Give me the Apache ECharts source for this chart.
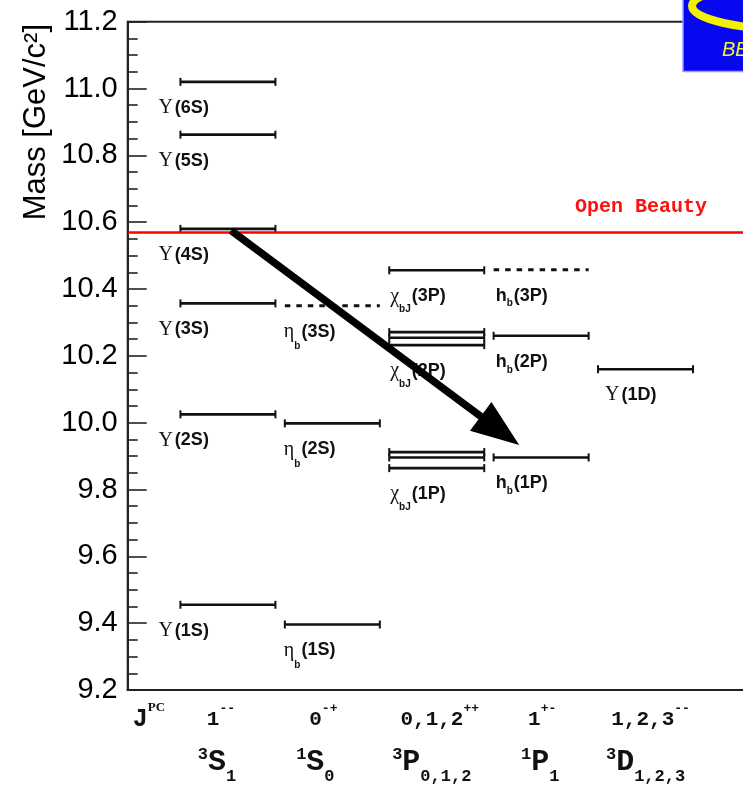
<!DOCTYPE html>
<html>
<head>
<meta charset="utf-8">
<script src="https://cdn.jsdelivr.net/npm/echarts@6/dist/echarts.min.js"></script>
<style>
  html, body { margin: 0; padding: 0; background: #fff; }
  #chart { width: 743px; height: 786px; }
</style>
</head>
<body>
<div id="chart"></div>
<script>
// ---- Bottomonium spectrum ----

// Columns: J^PC and spectroscopic term for each column (x = 0..4)
const columnJ = ['1', '0', '0,1,2', '1', '1,2,3'];
const columnPC = ['--', '-+', '++', '+-', '--'];
const columnSpin = ['3', '1', '3', '1', '3'];
const columnL = ['S', 'S', 'P', 'P', 'D'];
const columnTermJ = ['1', '0', '0,1,2', '1', '1,2,3'];

// States: symbol, subscript, radial/orbital term, column, masses of the members [GeV/c^2]
const stateSymbol = ['Υ', 'Υ', 'Υ', 'Υ', 'Υ', 'Υ', 'η', 'η', 'η', 'χ', 'χ', 'χ', 'h', 'h', 'h', 'Υ'];
const stateSub = ['', '', '', '', '', '', 'b', 'b', 'b', 'bJ', 'bJ', 'bJ', 'b', 'b', 'b', ''];
const stateTerm = ['(6S)', '(5S)', '(4S)', '(3S)', '(2S)', '(1S)', '(3S)', '(2S)', '(1S)',
                   '(3P)', '(2P)', '(1P)', '(3P)', '(2P)', '(1P)', '(1D)'];
const stateColumn = [0, 0, 0, 0, 0, 0, 1, 1, 1, 2, 2, 2, 3, 3, 3, 4];
const stateMasses = [
  [11.020], [10.862], [10.580], [10.357], [10.025], [9.455],
  [10.350], [9.998], [9.396],
  [10.456], [10.271, 10.254, 10.232], [9.912, 9.896, 9.864],
  [10.458], [10.260], [9.896],
  [10.160]
];
// 1 = predicted (drawn dashed), 0 = observed
const statePredicted = [0, 0, 0, 0, 0, 0, 1, 0, 0, 0, 0, 0, 1, 0, 0, 0];

// B-Bbar threshold
const openBeautyMass = 10.566;

// Transition arrow: from Υ(4S) down towards h_b(1P)
const arrowFrom = [0.03, 10.575];
const arrowTo = [2.79, 9.933];

// Mass axis
const massMin = 9.2;
const massMax = 11.2;
const massStep = 0.2;

// ---- drawing helpers ----
const INK = '#111';
const HALF = 0.455;                       // half-width of a level bar in column units
const labelShift = [-22, -1, 1, 2, 7];    // label x offset (px) per column
const jpcShift = [-7, -9, 3, 1, 5];       // x nudge (px) of the J^PC row per column
const termShift = [-11, -17, -5, -1, 0];  // x nudge (px) of the term row per column
const subKey = { 'η': 'se', 'χ': 'sx', 'h': 'sh' };

function stateLabel(s) {
  const sym = stateSymbol[s];
  let t = '';
  if (sym === 'Υ') t += '{u|Υ}';
  else if (sym === 'h') t += '{h|h}';
  else t += '{g|' + sym + '}';
  if (stateSub[s]) t += '{' + subKey[sym] + '|' + stateSub[s] + '}';
  t += '{n|' + stateTerm[s] + '}';
  return t;
}

const labelRich = {
  u: { fontFamily: 'Liberation Serif', fontSize: 20, lineHeight: 20, fill: INK, padding: [0, 2, 0, 0] },
  g: { fontFamily: 'Liberation Serif', fontSize: 20, lineHeight: 20, fill: INK },
  h: { fontFamily: 'Liberation Sans', fontWeight: 'bold', fontSize: 18, lineHeight: 20, fill: INK },
  n: { fontFamily: 'Liberation Sans', fontWeight: 'bold', fontSize: 18, lineHeight: 20, fill: INK },
  se: { fontFamily: 'Liberation Sans', fontWeight: 'bold', fontSize: 10, lineHeight: 12, fill: INK, padding: [30, 1, 0, 0] },
  sx: { fontFamily: 'Liberation Sans', fontWeight: 'bold', fontSize: 10, lineHeight: 12, fill: INK, padding: [26, 1, 0, 0] },
  sh: { fontFamily: 'Liberation Sans', fontWeight: 'bold', fontSize: 10, lineHeight: 12, fill: INK, padding: [16, 1, 0, 0] }
};

// one row per drawn bar: [column, mass, state index, carries label]
const levelRows = [];
stateMasses.forEach(function (ms, s) {
  const low = Math.min.apply(null, ms);
  ms.forEach(function (m) {
    levelRows.push([stateColumn[s], m, s, m === low ? 1 : 0]);
  });
});

function renderLevel(params, api) {
  const col = api.value(0), m = api.value(1), s = api.value(2), hasLabel = api.value(3);
  const a = api.coord([col - HALF, m]);
  const b = api.coord([col + HALF, m]);
  const dashed = statePredicted[s] === 1;
  const children = [{
    type: 'line',
    shape: { x1: a[0], y1: a[1], x2: b[0], y2: b[1] },
    style: { stroke: INK, lineWidth: dashed ? 3 : 2.6, lineDash: dashed ? [5.5, 6] : null }
  }];
  if (!dashed) {
    [a, b].forEach(function (p) {
      children.push({
        type: 'line',
        shape: { x1: p[0], y1: p[1] - 4, x2: p[0], y2: p[1] + 4 },
        style: { stroke: INK, lineWidth: 2 }
      });
    });
  }
  if (hasLabel) {
    children.push({
      type: 'text',
      x: a[0] + labelShift[col],
      y: a[1] + 26,
      style: {
        text: stateLabel(s),
        rich: labelRich,
        align: 'left',
        verticalAlign: 'middle',
        fill: INK
      }
    });
  }
  return { type: 'group', children: children };
}

function renderArrow(params, api) {
  const p0 = api.coord([api.value(0), api.value(1)]);
  const p1 = api.coord([api.value(2), api.value(3)]);
  const dx = p1[0] - p0[0], dy = p1[1] - p0[1];
  const len = Math.sqrt(dx * dx + dy * dy);
  const ux = dx / len, uy = dy / len;
  const headLen = 48, headHalf = 18;
  const bx = p1[0] - ux * headLen, by = p1[1] - uy * headLen;
  return {
    type: 'group',
    children: [{
      type: 'line',
      shape: { x1: p0[0], y1: p0[1], x2: bx + ux * 4, y2: by + uy * 4 },
      style: { stroke: '#000', lineWidth: 7.5 }
    }, {
      type: 'polygon',
      shape: { points: [
        [p1[0], p1[1]],
        [bx - uy * headHalf, by + ux * headHalf],
        [bx + uy * headHalf, by - ux * headHalf]
      ] },
      style: { fill: '#000' }
    }]
  };
}

// bottom axis: J^PC row and spectroscopic-term row
const jpcPos = -0.756;
const columnPositions = [0, 1, 2, 3, 4];
const mono = 'Liberation Mono';

// horizontal nudge through padding: left pad on first token or right pad on last
function nudge(shift) {
  return shift >= 0 ? { l: 2 * shift, r: 0 } : { l: 0, r: -2 * shift };
}

const bottomRich = {
  jj: { fontFamily: mono, fontWeight: 'bold', fontSize: 25, lineHeight: 36, color: INK },
  js: { fontFamily: 'Liberation Serif', fontWeight: 'bold', fontSize: 13, lineHeight: 14, color: INK, padding: [0, 0, 24, 0] },
  sp: { fontSize: 10, lineHeight: 48, color: INK }
};
columnPositions.forEach(function (i) {
  const n1 = nudge(jpcShift[i]);
  const n2 = nudge(termShift[i]);
  bottomRich['a' + i] = { fontFamily: mono, fontWeight: 'bold', fontSize: 21, lineHeight: 36, color: INK,
                          padding: [0, 0, 0, n1.l] };
  bottomRich['as' + i] = { fontFamily: mono, fontWeight: 'bold', fontSize: 13, lineHeight: 14, color: INK,
                           padding: [0, n1.r, 22, 0] };
  bottomRich['ts' + i] = { fontFamily: mono, fontWeight: 'bold', fontSize: 17, lineHeight: 18, color: INK,
                           padding: [0, 0, 14, n2.l] };
  bottomRich['tl' + i] = { fontFamily: mono, fontWeight: 'bold', fontSize: 30, lineHeight: 48, color: INK };
  bottomRich['tj' + i] = { fontFamily: mono, fontWeight: 'bold', fontSize: 17, lineHeight: 18, color: INK,
                           padding: [30, n2.r, 0, 0] };
});

function bottomLabel(v) {
  if (v < -0.5) return '{jj|J}{js|PC}\n{sp| }';
  const i = Math.round(v);
  return '{a' + i + '|' + columnJ[i] + '}{as' + i + '|' + columnPC[i] + '}\n' +
         '{ts' + i + '|' + columnSpin[i] + '}{tl' + i + '|' + columnL[i] + '}{tj' + i + '|' + columnTermJ[i] + '}';
}

const chart = echarts.init(document.getElementById('chart'), null, { renderer: 'canvas' });

chart.setOption({
  animation: false,
  backgroundColor: '#fff',
  grid: {
    left: 127.7, top: 21.7, width: 699.5, height: 668.3,
    outerBoundsMode: 'none', containLabel: false,
    show: true, borderColor: '#222', borderWidth: 2, backgroundColor: 'transparent'
  },
  xAxis: {
    type: 'value',
    min: -0.96, max: 5.74,
    splitLine: { show: false },
    axisLine: { show: true, onZero: false, lineStyle: { color: '#222', width: 2 } },
    axisTick: { show: false },
    axisLabel: {
      customValues: [jpcPos].concat(columnPositions),
      formatter: bottomLabel,
      rich: bottomRich,
      margin: 12,
      align: 'center',
      verticalAlign: 'top'
    }
  },
  yAxis: {
    type: 'value',
    min: massMin, max: massMax, interval: massStep,
    splitLine: { show: false },
    axisLine: { show: true, onZero: false, lineStyle: { color: '#222', width: 2 } },
    axisTick: { show: true, inside: true, length: 19, lineStyle: { color: '#222', width: 1.6 } },
    minorTick: { show: true, splitNumber: 4, length: 10, lineStyle: { color: '#222', width: 1.6 } },
    axisLabel: {
      color: '#000', fontFamily: 'Liberation Sans', fontSize: 29, margin: 10,
      formatter: function (v) { return v.toFixed(1); }
    }
  },
  graphic: [
    {
      type: 'text', x: 36, y: 24, rotation: Math.PI / 2,
      style: {
        text: 'Mass [GeV/c²]', fill: '#000', align: 'right', verticalAlign: 'middle',
        font: '31px "Liberation Sans"'
      }
    },
    {
      type: 'text', x: 575, y: 207,
      style: {
        text: 'Open Beauty', fill: '#ff1010', align: 'left', verticalAlign: 'middle',
        font: 'bold 20px "Liberation Mono"'
      }
    },
    {
      type: 'group', z: 100,
      children: [
        { type: 'rect', shape: { x: 683, y: -3, width: 80, height: 74.5 },
          style: { fill: '#0808f0', stroke: '#9a9aff', lineWidth: 1.5 } },
        { type: 'ellipse', shape: { cx: 800, cy: 6, rx: 108, ry: 24 },
          style: { fill: 'none', stroke: '#f2f200', lineWidth: 8 } },
        { type: 'text', x: 722, y: 50,
          style: { text: 'BESIII', fill: '#f0f040', font: 'italic 20px "Liberation Sans"', verticalAlign: 'middle' } }
      ]
    }
  ],
  series: [
    {
      type: 'custom',
      name: 'levels',
      renderItem: renderLevel,
      data: levelRows,
      encode: { x: 0, y: 1 },
      silent: true,
      z: 3,
      markLine: {
        silent: true,
        symbol: ['none', 'none'],
        label: { show: false },
        lineStyle: { color: '#ff0000', width: 2.5, type: 'solid' },
        data: [{ yAxis: openBeautyMass }]
      }
    },
    {
      type: 'custom',
      name: 'transition',
      renderItem: renderArrow,
      data: [[arrowFrom[0], arrowFrom[1], arrowTo[0], arrowTo[1]]],
      encode: { x: [0, 2], y: [1, 3] },
      silent: true,
      z: 10
    }
  ]
});
</script>
</body>
</html>
